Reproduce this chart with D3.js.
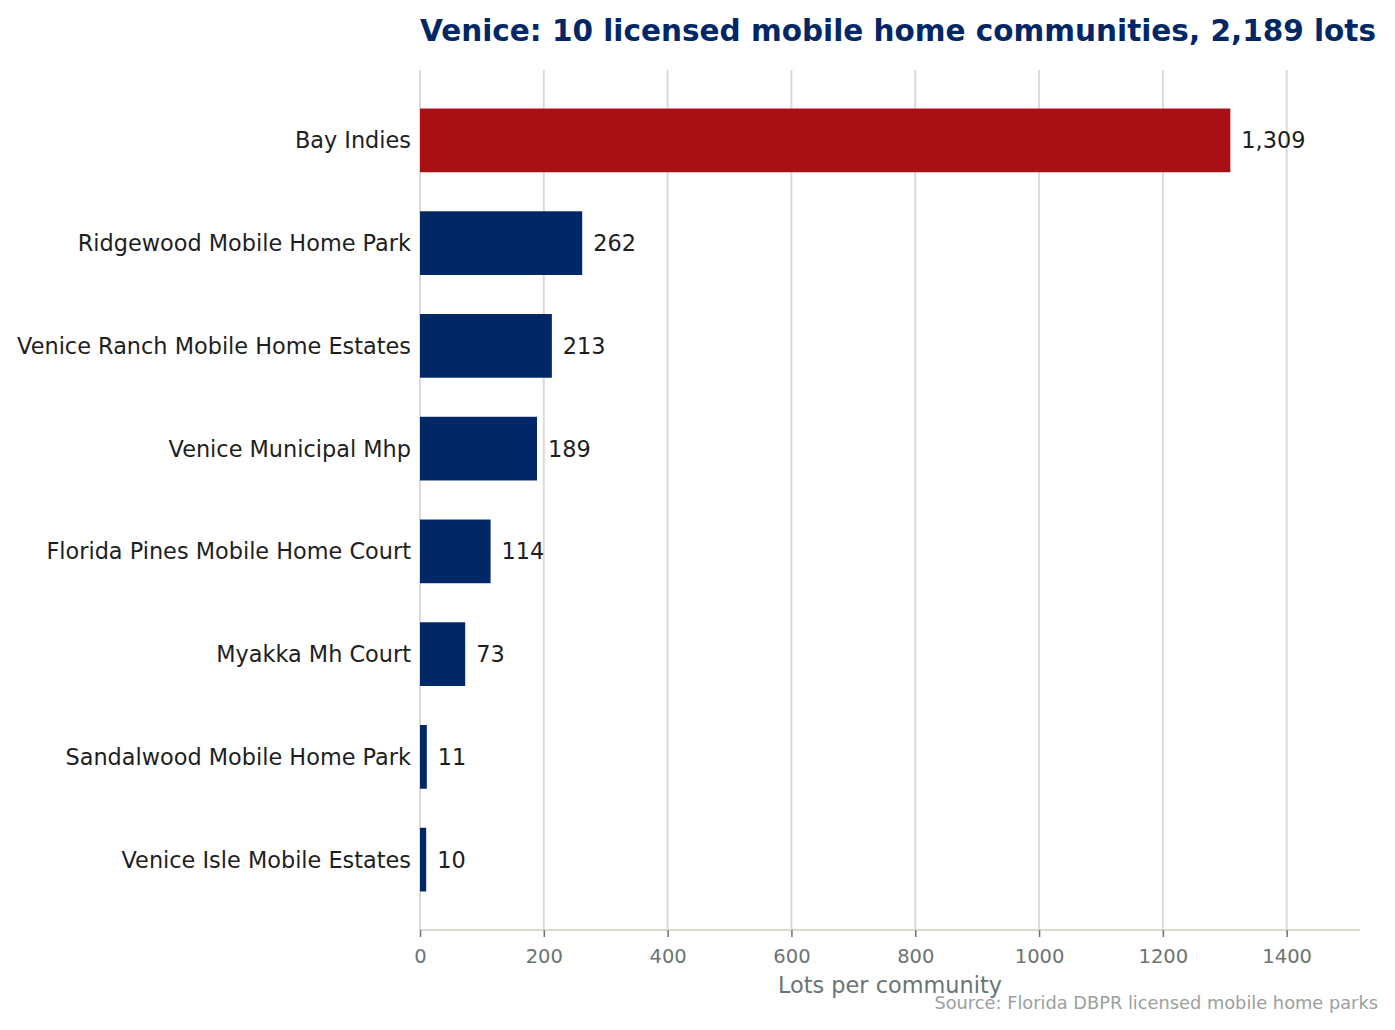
<!DOCTYPE html>
<html>
<head>
  <meta charset="utf-8">
  <script src="https://cdn.jsdelivr.net/npm/d3@7"></script>
  <style>
    body { margin: 0; background: #fff; }
    svg text { font-family: "DejaVu Sans", sans-serif; }
  </style>
</head>
<body>
  <div id="chart"></div>
  <script>
  // data
  var communities = [
    "Bay Indies",
    "Ridgewood Mobile Home Park",
    "Venice Ranch Mobile Home Estates",
    "Venice Municipal Mhp",
    "Florida Pines Mobile Home Court",
    "Myakka Mh Court",
    "Sandalwood Mobile Home Park",
    "Venice Isle Mobile Estates"
  ];
  var lots = [1309, 262, 213, 189, 114, 73, 11, 10];
  var xTicks = [0, 200, 400, 600, 800, 1000, 1200, 1400];

  var W = 1395, H = 1030;
  var margin = { top: 70, right: 35, bottom: 100, left: 420 };
  var navy = "#012766", red = "#a81015";

  var svg = d3.select("#chart").append("svg")
    .attr("width", W).attr("height", H);

  var x = d3.scaleLinear()
    .domain([0, d3.max(lots) * 1.16])
    .range([margin.left, W - margin.right]);

  var y = d3.scaleBand()
    .domain(communities)
    .range([margin.top, H - margin.bottom])
    .paddingInner(0.38)
    .paddingOuter(0.375);

  // grid
  svg.append("g").selectAll("line")
    .data(xTicks)
    .join("line")
    .attr("x1", function(d) { return x(d); })
    .attr("x2", function(d) { return x(d); })
    .attr("y1", margin.top)
    .attr("y2", H - margin.bottom)
    .attr("stroke", "#dddad2")
    .attr("stroke-width", 2);

  // bars
  var rows = communities.map(function(c, i) { return { name: c, v: lots[i] }; });

  svg.append("g").selectAll("rect")
    .data(rows)
    .join("rect")
    .attr("x", x(0))
    .attr("y", function(d) { return y(d.name); })
    .attr("width", function(d) { return x(d.v) - x(0); })
    .attr("height", y.bandwidth())
    .attr("fill", function(d, i) { return i === 0 ? red : navy; });

  // value labels
  svg.append("g").selectAll("text")
    .data(rows)
    .join("text")
    .attr("x", function(d) { return x(d.v) + 11; })
    .attr("y", function(d) { return y(d.name) + y.bandwidth() / 2; })
    .attr("dy", "0.36em")
    .style("font-size", "22.4px")
    .attr("fill", "#1e1e1e")
    .text(function(d) { return d3.format(",")(d.v); });

  // category labels
  svg.append("g").selectAll("text")
    .data(rows)
    .join("text")
    .attr("x", x(0) - 9)
    .attr("y", function(d) { return y(d.name) + y.bandwidth() / 2; })
    .attr("dy", "0.36em")
    .attr("text-anchor", "end")
    .style("font-size", "22.4px")
    .attr("fill", "#1e1e1e")
    .text(function(d) { return d.name; });

  // x axis
  var xAxis = svg.append("g")
    .attr("transform", "translate(0," + (H - margin.bottom) + ")")
    .call(d3.axisBottom(x).tickValues(xTicks).tickSize(7).tickPadding(12).tickFormat(d3.format("d")));
  xAxis.select(".domain").attr("stroke", "#dddad2").attr("stroke-width", 2)
    .attr("d", "M" + x.range()[0] + ",0H" + x.range()[1]);
  xAxis.selectAll(".tick line").attr("stroke", "#6b7472").attr("stroke-width", 1.5);
  xAxis.selectAll(".tick text")
    .style("font-size", "19.5px")
    .attr("fill", "#6b7472");

  svg.append("text")
    .attr("x", (x.range()[0] + x.range()[1]) / 2)
    .attr("y", 993)
    .attr("text-anchor", "middle")
    .style("font-size", "22.4px")
    .attr("fill", "#6b7472")
    .text("Lots per community");

  // title
  svg.append("text")
    .attr("x", margin.left)
    .attr("y", 41)
    .style("font-size", "29.5px")
    .style("font-weight", "bold")
    .attr("fill", navy)
    .text("Venice: 10 licensed mobile home communities, 2,189 lots");

  // source
  svg.append("text")
    .attr("x", 1378)
    .attr("y", 1009)
    .attr("text-anchor", "end")
    .style("font-size", "17.8px")
    .attr("fill", "#9aa09e")
    .text("Source: Florida DBPR licensed mobile home parks");
  </script>
</body>
</html>
